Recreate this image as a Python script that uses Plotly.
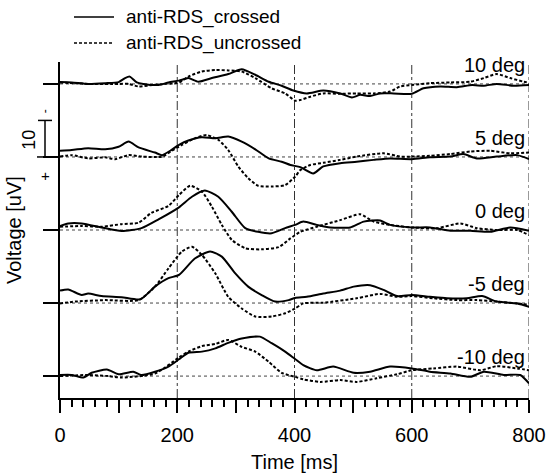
import plotly.graph_objects as go

# readings in uV relative to each condition's baseline, time in ms
t_10c = [0, 20, 48, 77, 100, 111, 119, 131, 142, 168, 185, 203, 219, 236, 259, 287, 310, 333, 356, 378, 398, 421, 449, 478, 498, 512, 529, 546, 569, 600, 620, 649, 677, 703, 723, 745, 774, 800]
v_10c = [0.5, 0.4, 0, 0.2, 0.5, 1.6, 2.0, 0.4, 0, -0.3, 0.4, 0.9, 1.6, 0.6, 1.6, 2.7, 4.0, 2.5, 0.6, -0.5, -1.8, -2.6, -1.8, -2.6, -3.7, -3.0, -3.3, -2.6, -2.6, -2.7, -1.2, -0.7, -0.9, -0.3, -0.5, 0, -0.5, -0.3]
t_10u = [0, 48, 100, 117, 134, 162, 203, 219, 242, 265, 287, 310, 333, 361, 384, 401, 410, 427, 449, 478, 506, 535, 563, 580, 600, 631, 666, 700, 723, 745, 768, 791, 800]
v_10u = [0.4, 0, 0, 0, -0.7, -0.2, 0.4, 2.0, 3.4, 3.8, 3.7, 3.4, 1.6, -1.2, -2.6, -4.6, -4.4, -3.5, -2.6, -2.7, -2.6, -2.6, -2.1, -0.7, -0.3, 0.2, 0.4, 0.6, 1.6, 2.7, 1.6, 0.6, 0.4]

t_5c = [0, 20, 48, 77, 100, 117, 134, 162, 174, 188, 203, 219, 242, 265, 287, 310, 333, 356, 378, 393, 410, 432, 449, 478, 506, 535, 563, 600, 631, 666, 688, 711, 745, 780, 800]
v_5c = [1.7, 1.9, 2.4, 2.1, 2.8, 4.2, 2.6, 1.2, 0.5, 1.7, 3.3, 4.5, 5.4, 5.1, 5.6, 4.2, 2.1, -0.4, -1.3, -2.2, -2.8, -4.5, -2.6, -1.7, -1.3, -0.8, -0.4, -0.6, -0.1, 0.1, 0.8, -0.4, 0.1, 0.5, -0.6]
t_5u = [0, 20, 48, 77, 94, 117, 140, 174, 191, 208, 230, 250, 270, 287, 304, 321, 338, 361, 384, 401, 410, 427, 449, 478, 506, 552, 580, 600, 631, 666, 700, 734, 768, 800]
v_5u = [0.1, 0.5, -0.4, -0.1, -0.6, 0.5, 0.1, 0.1, 1.7, 3.3, 5.1, 6.0, 4.7, 1.9, -2.6, -5.8, -7.9, -8.1, -7.7, -5.4, -3.6, -2.2, -1.6, -0.8, 0.1, 1.0, 0.1, 0.1, 0.3, 0.8, 1.5, 1.7, 1.0, 1.2]

t_0c = [0, 14, 37, 71, 105, 139, 168, 203, 225, 247, 270, 293, 316, 338, 361, 384, 401, 415, 438, 461, 495, 518, 546, 563, 600, 631, 666, 700, 734, 768, 800]
v_0c = [1.1, 1.8, 1.8, 0.7, -0.3, 0.5, 2.9, 6.2, 9.1, 10.8, 9.1, 5.0, 0.5, -0.5, -0.9, 0.5, 1.4, 2.3, 1.4, 0.7, 0.7, 2.3, 2.6, 1.4, 0.7, 0.7, -0.2, -0.2, -0.5, 0.7, -0.2]
t_0u = [0, 37, 71, 105, 134, 156, 185, 203, 222, 242, 259, 276, 293, 316, 344, 373, 393, 410, 438, 478, 512, 535, 563, 600, 643, 683, 711, 745, 780, 800]
v_0u = [0.9, 1.1, 0.9, 1.6, 2.0, 4.7, 6.6, 9.6, 12.1, 10.5, 6.4, 1.4, -2.7, -5.0, -5.3, -4.7, -2.3, -0.5, 0.9, 2.7, 4.3, 2.3, 1.4, 0.7, 0.5, 1.8, 0.5, 0, 0, -1.4]

t_m5c = [0, 14, 37, 48, 71, 105, 137, 162, 185, 203, 230, 256, 276, 299, 321, 344, 367, 390, 401, 421, 449, 478, 501, 529, 552, 575, 600, 631, 660, 694, 720, 745, 780, 800]
v_m5c = [3.4, 3.7, 2.2, 2.6, 1.9, 1.6, 1.0, 4.5, 6.8, 7.7, 12.2, 14.1, 12.7, 8.1, 4.5, 2.2, 0.4, 0.8, 1.4, 1.7, 2.6, 3.4, 4.5, 4.9, 3.6, 1.9, 2.2, 1.7, 1.3, 1.3, 1.9, 0.4, -0.1, -1.0]
t_m5u = [0, 26, 77, 134, 162, 185, 208, 225, 242, 265, 287, 310, 333, 361, 384, 401, 415, 449, 506, 546, 575, 600, 637, 677, 711, 745, 780, 800]
v_m5u = [-0.1, 0.4, 0.8, 0.8, 4.5, 9.5, 14.1, 15.4, 13.2, 8.1, 1.7, -1.5, -3.7, -3.7, -2.8, -1.5, -0.1, 0.1, 1.3, 2.5, 1.7, 1.9, 1.3, 0.8, 0.8, 0.4, -0.1, -0.5]

t_m10c = [0, 20, 40, 54, 80, 100, 125, 139, 162, 185, 203, 219, 242, 265, 287, 310, 341, 361, 384, 400, 415, 438, 466, 501, 529, 563, 600, 631, 666, 700, 723, 757, 785, 800]
v_m10c = [0.3, 0.3, -0.4, 0.9, 1.8, 0.5, 1.2, 0.3, 1.2, 2.6, 4.6, 6.4, 6.7, 7.6, 9.1, 10.3, 10.8, 9.0, 6.7, 4.8, 3.0, 1.6, 2.6, 0.9, 1.2, 2.6, 2.1, 1.2, 0.7, -0.2, 1.2, 0.3, 0.3, -2.0]
t_m10u = [0, 48, 82, 105, 162, 203, 219, 242, 265, 287, 310, 333, 356, 378, 401, 415, 444, 478, 506, 540, 575, 600, 637, 677, 717, 745, 780, 800]
v_m10u = [0, 0.3, 0, -0.4, 0.7, 5.1, 6.7, 8.2, 8.8, 9.9, 8.0, 6.7, 3.9, 0.9, -0.2, -0.9, -1.6, -1.1, -1.6, -0.6, 0.5, 1.6, 2.1, 2.6, 1.6, 2.7, 2.1, 1.6]

conditions = ['10 deg', '5 deg', '0 deg', '-5 deg', '-10 deg']
offsets = [80, 60, 40, 20, 0]
crossed = [(t_10c, v_10c), (t_5c, v_5c), (t_0c, v_0c), (t_m5c, v_m5c), (t_m10c, v_m10c)]
uncrossed = [(t_10u, v_10u), (t_5u, v_5u), (t_0u, v_0u), (t_m5u, v_m5u), (t_m10u, v_m10u)]

FONT = 'Liberation Sans, Arial, sans-serif'
fig = go.Figure()

for (t, v), off in zip(uncrossed, offsets):
    fig.add_trace(go.Scatter(x=t, y=[off + a for a in v], mode='lines', showlegend=False,
                             line=dict(color='black', width=2, dash='3px,2px', shape='spline', smoothing=0.6)))
for (t, v), off in zip(crossed, offsets):
    fig.add_trace(go.Scatter(x=t, y=[off + a for a in v], mode='lines', showlegend=False,
                             line=dict(color='black', width=2, shape='spline', smoothing=0.6)))

shapes = []
# vertical dash-dot grid
for gx in [200, 400, 600, 800]:
    shapes.append(dict(type='line', xref='x', yref='paper', x0=gx, x1=gx, y0=0, y1=1,
                       line=dict(color='#333', width=1, dash='dashdot'), layer='below'))
# baselines
for off in offsets:
    shapes.append(dict(type='line', xref='x', yref='y', x0=0, x1=800, y0=off, y1=off,
                       line=dict(color='#444', width=1, dash='dot'), layer='below'))
# scale bar 10 uV
sx = (45 - 60) / 469
shapes += [
    dict(type='line', xref='paper', yref='y', x0=sx, x1=sx, y0=60, y1=70, line=dict(color='black', width=1.5)),
    dict(type='line', xref='paper', yref='y', x0=(38 - 60) / 469, x1=(52 - 60) / 469, y0=70, y1=70, line=dict(color='black', width=1.5)),
    dict(type='line', xref='paper', yref='y', x0=(37 - 60) / 469, x1=0, y0=60, y1=60, line=dict(color='black', width=1.5)),
]
# legend samples
shapes += [
    dict(type='line', xref='paper', yref='paper', x0=(74 - 60) / 469, x1=(114 - 60) / 469,
         y0=(398 - 17) / 336, y1=(398 - 17) / 336, line=dict(color='black', width=1.5)),
    dict(type='line', xref='paper', yref='paper', x0=(74 - 60) / 469, x1=(114 - 60) / 469,
         y0=(398 - 43) / 336, y1=(398 - 43) / 336, line=dict(color='black', width=1.5, dash='3px,2px')),
]

ann = []
for name, off in zip(conditions, offsets):
    ann.append(dict(x=796, y=off + 5.2, xref='x', yref='y', text=name, showarrow=False,
                    xanchor='right', yanchor='middle', font=dict(size=20)))
ann += [
    dict(x=(124 - 60) / 469, y=(398 - 17) / 336, xref='paper', yref='paper', text='anti-RDS_crossed',
         showarrow=False, xanchor='left', yanchor='middle', font=dict(size=19)),
    dict(x=(124 - 60) / 469, y=(398 - 43) / 336, xref='paper', yref='paper', text='anti-RDS_uncrossed',
         showarrow=False, xanchor='left', yanchor='middle', font=dict(size=19)),
    dict(x=(29 - 60) / 469, y=64.7, xref='paper', yref='y', text='10', textangle=-90,
         showarrow=False, xanchor='center', yanchor='middle', font=dict(size=18)),
    dict(x=sx, y=72.5, xref='paper', yref='y', text='-', textangle=-90,
         showarrow=False, xanchor='center', yanchor='middle', font=dict(size=12)),
    dict(x=sx, y=55.0, xref='paper', yref='y', text='+',
         showarrow=False, xanchor='center', yanchor='middle', font=dict(size=15)),
    dict(x=(14 - 60) / 469, y=0.5, xref='paper', yref='paper', text='Voltage [uV]', textangle=-90,
         showarrow=False, xanchor='center', yanchor='middle', font=dict(size=20)),
    dict(x=0.5, y=(398 - 462) / 336, xref='paper', yref='paper', text='Time [ms]',
         showarrow=False, xanchor='center', yanchor='middle', font=dict(size=20)),
]

fig.update_layout(
    width=549, height=476,
    margin=dict(l=60, r=20, t=62, b=78, autoexpand=False),
    paper_bgcolor='white', plot_bgcolor='white',
    font=dict(family=FONT, color='black', size=20),
    shapes=shapes, annotations=ann,
)
fig.update_xaxes(range=[0, 800], showgrid=False, zeroline=False, showline=True, linecolor='black', linewidth=1.5,
                 tickvals=list(range(0, 801, 100)), ticktext=['0', '', '200', '', '400', '', '600', '', '800'],
                 ticks='outside', ticklen=13, tickwidth=1.5, tickcolor='black', ticklabelstandoff=5,
                 minor=dict(dtick=20, ticks='outside', ticklen=7, tickwidth=1.5, tickcolor='black'),
                 tickfont=dict(size=20), automargin=False)
fig.update_yaxes(range=[-6, 86], showgrid=False, zeroline=False, showline=True, linecolor='black', linewidth=1.5,
                 tickvals=offsets, showticklabels=False, ticks='outside', ticklen=15, tickwidth=1.5,
                 tickcolor='black', automargin=False)

fig.write_html("out.html", config={'displayModeBar': False},
               post_script="document.body.style.margin='0';")
